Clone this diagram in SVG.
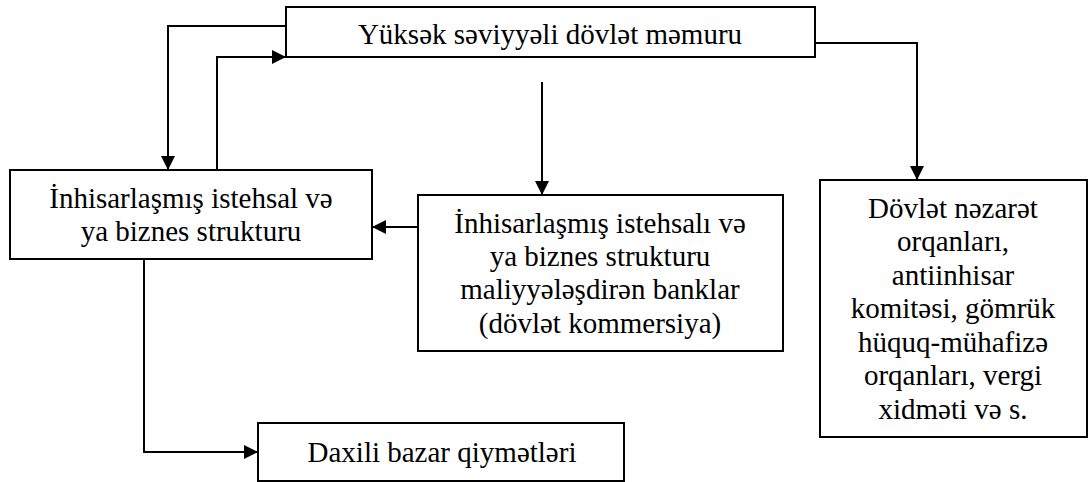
<svg xmlns="http://www.w3.org/2000/svg" width="1089" height="482" viewBox="0 0 1089 482">
<defs>
<style>
.box{fill:#fff;stroke:#000;stroke-width:2}
.t{font-family:"Liberation Serif","Times New Roman",serif;font-size:29px;fill:#000;text-anchor:middle}
.c{fill:none;stroke:#000;stroke-width:2}
</style>
<marker id="ah" markerUnits="userSpaceOnUse" markerWidth="16" markerHeight="16" viewBox="0 0 16 16" refX="15" refY="8" orient="auto">
<path d="M1,1 L15,8 L1,15 Z" fill="#000"/>
</marker>
</defs>
<rect width="1089" height="482" fill="#fff"/>
<g id="connectors">
<path class="c" d="M286,26 H168 V170" marker-end="url(#ah)"/>
<path class="c" d="M217,170 V57 H286" marker-end="url(#ah)"/>
<path class="c" d="M542,82 V195" marker-end="url(#ah)"/>
<path class="c" d="M815,43 H917 V180" marker-end="url(#ah)"/>
<path class="c" d="M418,227 H372" marker-end="url(#ah)"/>
<path class="c" d="M144,259 V452 H258" marker-end="url(#ah)"/>
</g>
<g id="top">
<rect class="box" x="286" y="7" width="529" height="50"/>
<text class="t" x="550" y="44">Yüksək səviyyəli dövlət məmuru</text>
</g>
<g id="left">
<rect class="box" x="10" y="170" width="362" height="89"/>
<text class="t" x="191" y="208">İnhisarlaşmış istehsal və</text>
<text class="t" x="191" y="241">ya biznes strukturu</text>
</g>
<g id="middle">
<rect class="box" x="418" y="195" width="365" height="156"/>
<text class="t" x="600" y="233">İnhisarlaşmış istehsalı və</text>
<text class="t" x="600" y="266">ya biznes strukturu</text>
<text class="t" x="600" y="299">maliyyələşdirən banklar</text>
<text class="t" x="600" y="333">(dövlət kommersiya)</text>
</g>
<g id="right">
<rect class="box" x="820" y="180" width="267" height="257"/>
<text class="t" x="953" y="218">Dövlət nəzarət</text>
<text class="t" x="953" y="251">orqanları,</text>
<text class="t" x="953" y="285">antiinhisar</text>
<text class="t" x="953" y="318">komitəsi, gömrük</text>
<text class="t" x="953" y="352">hüquq-mühafizə</text>
<text class="t" x="953" y="385">orqanları, vergi</text>
<text class="t" x="953" y="419">xidməti və s.</text>
</g>
<g id="bottom">
<rect class="box" x="258" y="423" width="366" height="58"/>
<text class="t" x="442" y="462">Daxili bazar qiymətləri</text>
</g>
</svg>
